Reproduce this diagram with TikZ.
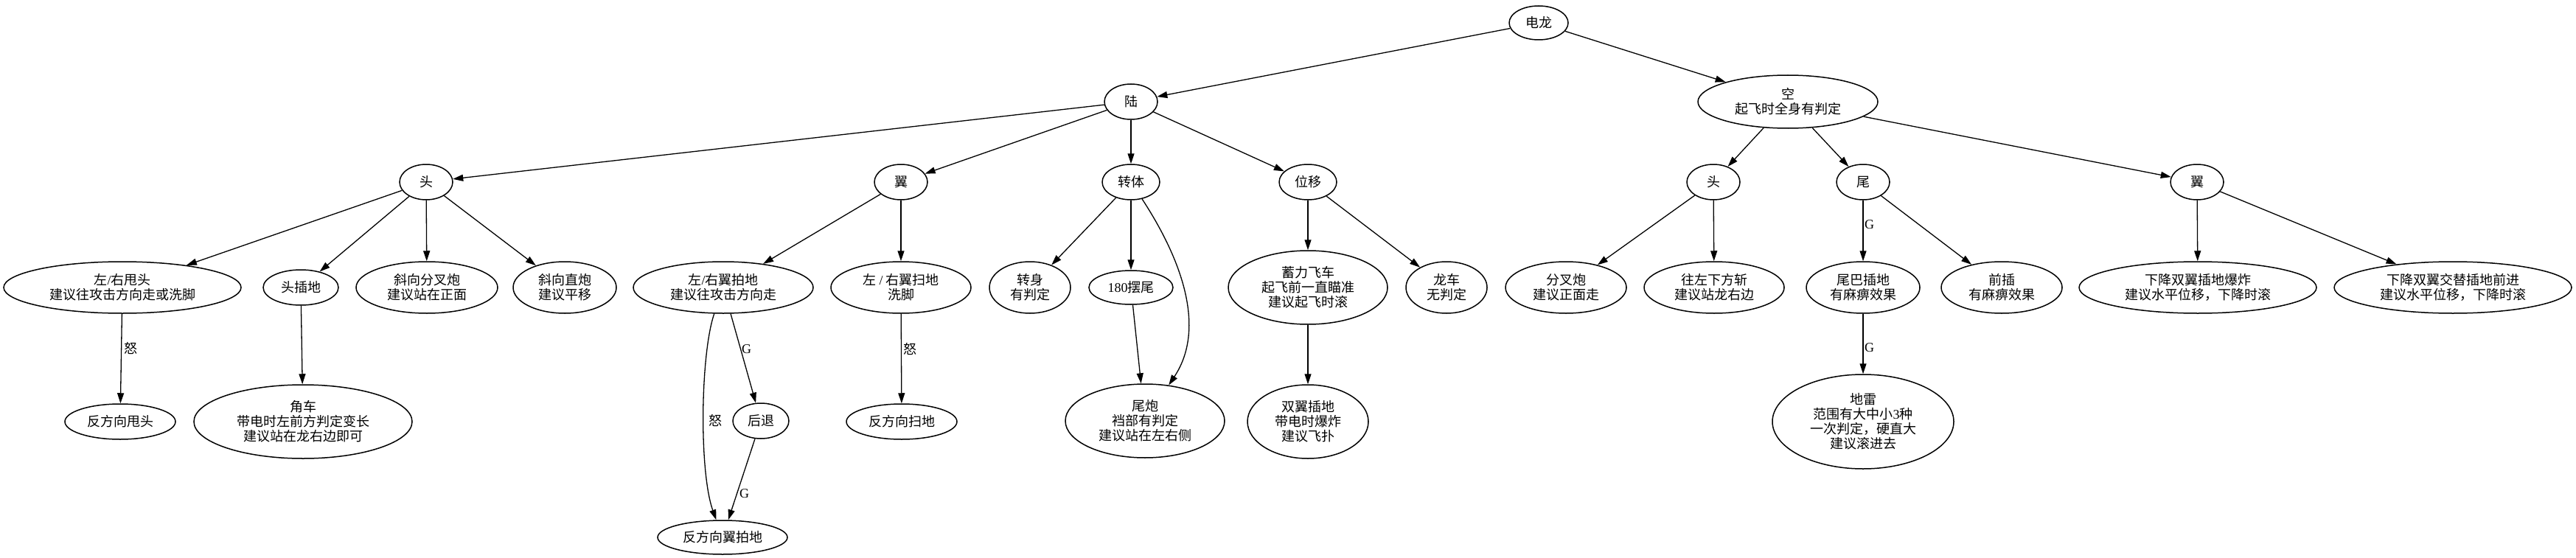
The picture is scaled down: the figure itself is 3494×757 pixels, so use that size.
\documentclass[tikz,border=0pt]{standalone}
\usepackage{fontspec}
\setmainfont{Noto Sans CJK SC}
\newfontfamily\lat{Liberation Serif}
\usetikzlibrary{shapes.geometric,arrows.meta}
\newcommand\fnt{\fontsize{18}{20}\selectfont}
\begin{document}
\begin{tikzpicture}[x=1pt,y=-1pt,
  nd/.style={draw, ellipse, line width=1.5pt, inner sep=0pt, align=center, font=\fnt},
  sz/.style 2 args={minimum width=#1pt, minimum height=#2pt},
  ed/.style={-{Triangle[length=14pt,width=9pt]}, line width=1.3pt},
  lb/.style={font=\fnt, inner sep=0pt, anchor=west}]
\useasboundingbox[fill=white] (0,0) rectangle (3494,757);
% rank 0
\node[nd, sz={80}{46}] (dl) at (2087,31) {电龙};
% rank 1
\node[nd, sz={72}{48}] (lu) at (1534,138) {陆};
\node[nd, sz={244}{72}] (kong) at (2425,138) {空\\起飞时全身有判定};
% rank 2
\node[nd, sz={72}{48}] (tou1) at (578,247) {头};
\node[nd, sz={72}{48}] (yi1) at (1222,247) {翼};
\node[nd, sz={78}{48}] (zt) at (1534,247) {转体};
\node[nd, sz={78}{48}] (wy) at (1774,247) {位移};
\node[nd, sz={72}{48}] (tou2) at (2324,247) {头};
\node[nd, sz={72}{48}] (wei) at (2527,247) {尾};
\node[nd, sz={72}{48}] (yi2) at (2980,247) {翼};
% rank 3
\node[nd, sz={322}{70}] (swt) at (166,390) {左{\lat/}右甩头\\建议往攻击方向走或洗脚};
\node[nd, sz={102}{48}] (tcd) at (408,390) {头插地};
\node[nd, sz={192}{70}] (xfc) at (579,390) {斜向分叉炮\\建议站在正面};
\node[nd, sz={140}{70}] (xzp) at (766,390) {斜向直炮\\建议平移};
\node[nd, sz={244}{70}] (ypd) at (981,390) {左{\lat/}右翼拍地\\建议往攻击方向走};
\node[nd, sz={190}{70}] (ysd) at (1222,390) {左 {\lat/} 右翼扫地\\洗脚};
\node[nd, sz={110}{70}] (zs) at (1397,390) {转身\\有判定};
\node[nd, sz={114}{46}] (bw) at (1534,390) {{\lat 180}摆尾};
\node[nd, sz={216}{100}] (xlfc) at (1774,390) {蓄力飞车\\起飞前一直瞄准\\建议起飞时滚};
\node[nd, sz={110}{70}] (lc) at (1962,390) {龙车\\无判定};
\node[nd, sz={164}{70}] (fcp) at (2124,390) {分叉炮\\建议正面走};
\node[nd, sz={190}{70}] (wzx) at (2325,390) {往左下方斩\\建议站龙右边};
\node[nd, sz={154}{70}] (wbcd) at (2527,390) {尾巴插地\\有麻痹效果};
\node[nd, sz={164}{70}] (qc) at (2715,390) {前插\\有麻痹效果};
\node[nd, sz={322}{70}] (xj1) at (2981,390) {下降双翼插地爆炸\\建议水平位移，下降时滚};
\node[nd, sz={322}{70}] (xj2) at (3327,390) {下降双翼交替插地前进\\建议水平位移，下降时滚};
% rank 4
\node[nd, sz={150}{48}] (ffxst) at (163,572) {反方向甩头};
\node[nd, sz={296}{100}] (jc) at (411,572) {角车\\带电时左前方判定变长\\建议站在龙右边即可};
\node[nd, sz={76}{48}] (ht) at (1032,571) {后退};
\node[nd, sz={150}{48}] (ffxsd) at (1223,572) {反方向扫地};
\node[nd, sz={216}{100}] (wp) at (1553,571) {尾炮\\裆部有判定\\建议站在左右侧};
\node[nd, sz={164}{100}] (syc) at (1774,572) {双翼插地\\带电时爆炸\\建议飞扑};
\node[nd, sz={246}{128}] (dilei) at (2527,572) {地雷\\范围有大中小{\lat 3}种\\一次判定，硬直大\\建议滚进去};
% rank 5
\node[nd, sz={176}{46}] (ffxypd) at (980,729) {反方向翼拍地};
% edges
\draw[ed] (dl) -- (lu);
\draw[ed] (dl) -- (kong);
\draw[ed] (lu) -- (tou1);
\draw[ed] (lu) -- (yi1);
\draw[ed] (lu) -- (zt);
\draw[ed] (lu) -- (wy);
\draw[ed] (tou1) -- (swt);
\draw[ed] (tou1) -- (tcd);
\draw[ed] (tou1) -- (xfc);
\draw[ed] (tou1) -- (xzp);
\draw[ed] (swt) -- (ffxst);
\draw[ed] (tcd) -- (jc);
\draw[ed] (yi1) -- (ypd);
\draw[ed] (yi1) -- (ysd);
\draw[ed] (ypd) -- (ht);
\draw[ed] (ypd) .. controls (950,480) and (948,640) .. (ffxypd);
\draw[ed] (ht) -- (ffxypd);
\draw[ed] (ysd) -- (ffxsd);
\draw[ed] (zt) -- (zs);
\draw[ed] (zt) -- (bw);
\draw[ed] (zt) .. controls (1595,340) and (1640,440) .. (wp);
\draw[ed] (bw) -- (wp);
\draw[ed] (wy) -- (xlfc);
\draw[ed] (wy) -- (lc);
\draw[ed] (xlfc) -- (syc);
\draw[ed] (kong) -- (tou2);
\draw[ed] (kong) -- (wei);
\draw[ed] (kong) -- (yi2);
\draw[ed] (tou2) -- (fcp);
\draw[ed] (tou2) -- (wzx);
\draw[ed] (wei) -- (wbcd);
\draw[ed] (wei) -- (qc);
\draw[ed] (wbcd) -- (dilei);
\draw[ed] (yi2) -- (xj1);
\draw[ed] (yi2) -- (xj2);
% edge labels
\node[lb] (lab1) at (168,473) {怒};
\node[lb] (lab2) at (1006,474) {\lat G};
\node[lb] (lab3) at (961,571) {怒};
\node[lb] (lab4) at (1003,670) {\lat G};
\node[lb] (lab5) at (1225,474) {怒};
\node[lb] (lab6) at (2529,305) {\lat G};
\node[lb] (lab7) at (2529,472) {\lat G};
\end{tikzpicture}
\end{document}
